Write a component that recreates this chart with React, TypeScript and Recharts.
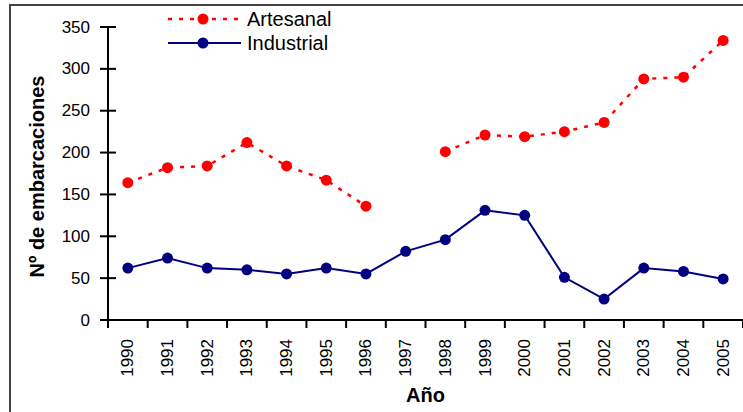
import React from 'react'
import { LineChart, Line, XAxis, YAxis } from 'recharts'

const YEARS = [1990, 1991, 1992, 1993, 1994, 1995, 1996, 1997, 1998, 1999, 2000, 2001, 2002, 2003, 2004, 2005]
const ARTESANAL = [164, 182, 184, 212, 184, 167, 136, null, 201, 221, 219, 225, 236, 288, 290, 334]
const INDUSTRIAL = [62, 74, 62, 60, 55, 62, 55, 82, 96, 131, 125, 51, 25, 62, 58, 49]
const Y_TICKS = [0, 50, 100, 150, 200, 250, 300, 350]
// tick marks sit between the years, labels on the years
const X_BOUNDS = [...YEARS.map(y => y - 0.5), YEARS[YEARS.length - 1] + 0.5]

const data = YEARS.map((year, i) => ({ year, artesanal: ARTESANAL[i], industrial: INDUSTRIAL[i] }))

const FONT = 'Liberation Sans, Arial, sans-serif'
const RED = '#ff0000'
const NAVY = '#000080'

const XTick = ({ x, y, payload }: any) => {
  const v = payload.value
  if (!Number.isInteger(v)) {
    return <line x1={x} y1={y} x2={x} y2={y + 8} stroke="#000" strokeWidth={2} />
  }
  return (
    <text transform={`translate(${x},${y + 19}) rotate(-90)`} textAnchor="end" dominantBaseline="central"
      fontSize={17} fontFamily={FONT} fill="#000">{v}</text>
  )
}

const YTick = ({ x, y, payload }: any) => (
  <g>
    <line x1={x - 8} y1={y} x2={x + 8} y2={y} stroke="#000" strokeWidth={2} />
    <text x={x - 18} y={y} textAnchor="end" dominantBaseline="central" fontSize={17} fontFamily={FONT} fill="#000">{payload.value}</text>
  </g>
)

// legend drawn as an overlay so the plot area keeps its place
const LegendBox = () => (
  <svg width={180} height={50} style={{ position: 'absolute', left: 160, top: 4, display: 'block' }}>
    <line x1={8} y1={15} x2={78} y2={15} stroke={RED} strokeWidth={2.5} strokeDasharray="4 7" />
    <circle cx={43} cy={15} r={5.5} fill={RED} />
    <text x={87} y={15} dominantBaseline="central" fontSize={20} fontFamily={FONT} fill="#000">Artesanal</text>
    <line x1={8} y1={39} x2={81} y2={39} stroke={NAVY} strokeWidth={2} />
    <circle cx={43} cy={39} r={5.5} fill={NAVY} />
    <text x={87} y={39} dominantBaseline="central" fontSize={20} fontFamily={FONT} fill="#000">Industrial</text>
  </svg>
)

export default function App() {
  return (
    <div style={{ position: 'absolute', left: 0, top: 0, width: 743, height: 412, overflow: 'hidden', background: '#fff', fontFamily: FONT }}>
      <div style={{ position: 'absolute', left: 9, top: 4, width: 734, height: 408, borderLeft: '2px solid #444', borderTop: '2px solid #444' }} />
      <LineChart width={743} height={412} data={data} margin={{ top: 27, right: 0, bottom: 0, left: 0 }}>
        <XAxis dataKey="year" type="number" domain={[1989.5, 2005.5]} ticks={[...X_BOUNDS, ...YEARS]} interval={0}
          height={92} tickLine={false} tickSize={0} tickMargin={0} tick={<XTick />}
          axisLine={{ stroke: '#000', strokeWidth: 2 }}
          label={({ viewBox }: any) => (
            <text x={viewBox.x + viewBox.width / 2} y={viewBox.y + 82} textAnchor="middle" fontSize={20} fontWeight="bold" fontFamily={FONT} fill="#000">Año</text>
          )} />
        <YAxis domain={[0, 350]} ticks={Y_TICKS} interval={0} width={108} tickLine={false} tickSize={0} tickMargin={0}
          tick={<YTick />} axisLine={{ stroke: '#000', strokeWidth: 2 }}
          label={({ viewBox }: any) => (
            <text transform={`translate(${viewBox.x + 37},${viewBox.y + viewBox.height / 2 + 3}) rotate(-90)`} textAnchor="middle"
              dominantBaseline="central" fontSize={20} fontWeight="bold" fontFamily={FONT} fill="#000">Nº de embarcaciones</text>
          )} />
        <Line dataKey="artesanal" name="Artesanal" stroke={RED} strokeWidth={2.5} strokeDasharray="4 7"
          dot={{ r: 5.5, fill: RED, stroke: 'none' }} activeDot={false} connectNulls={false} isAnimationActive={false} />
        <Line dataKey="industrial" name="Industrial" stroke={NAVY} strokeWidth={2}
          dot={{ r: 5.5, fill: NAVY, stroke: 'none' }} activeDot={false} isAnimationActive={false} />
      </LineChart>
      <LegendBox />
    </div>
  )
}
